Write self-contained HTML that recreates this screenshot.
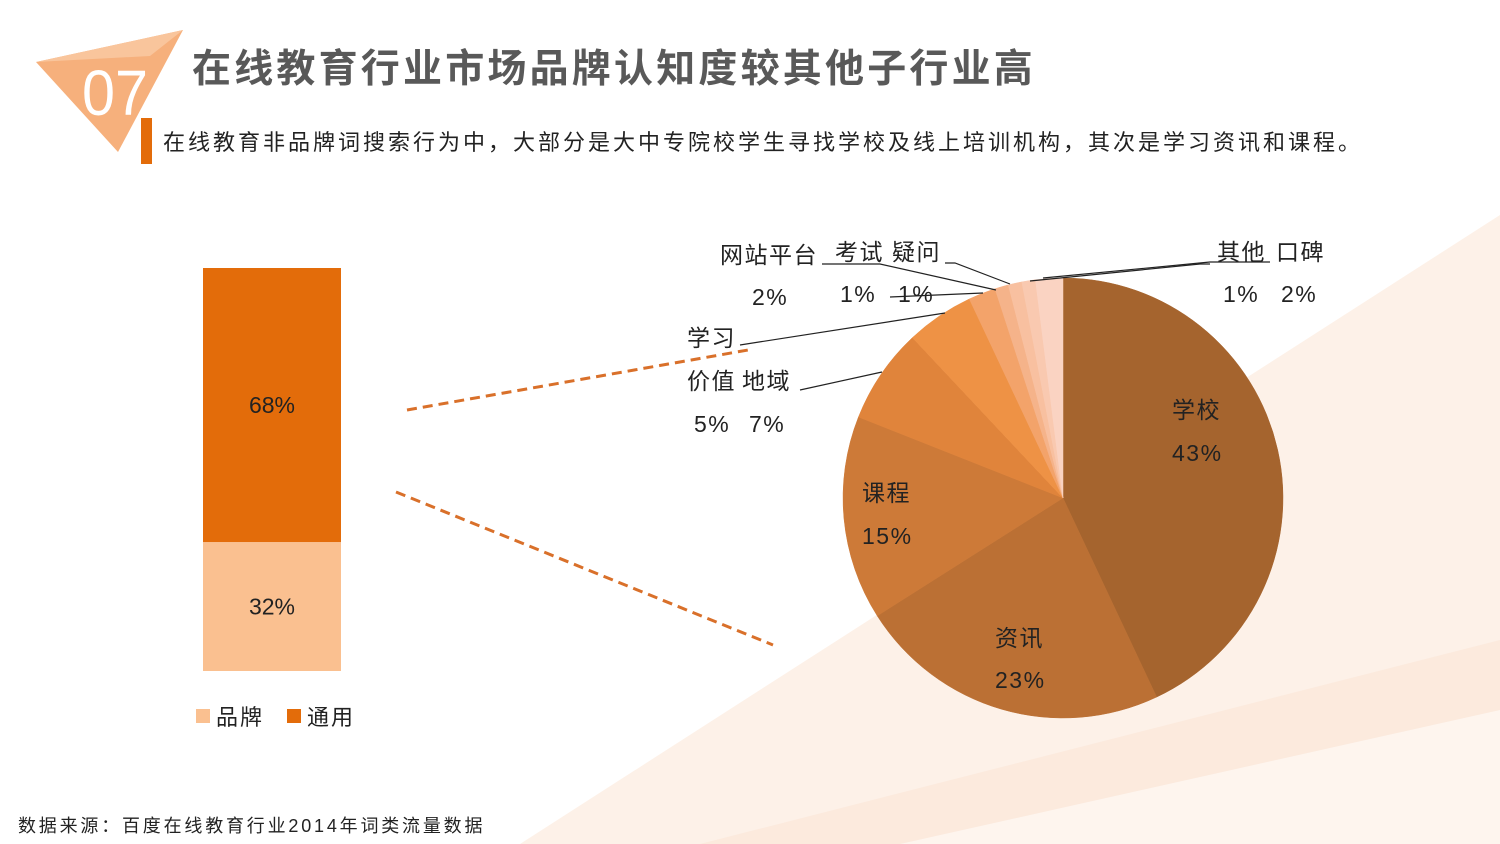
<!DOCTYPE html>
<html><head><meta charset="utf-8"><style>
body{margin:0;width:1500px;height:844px;overflow:hidden;background:#fff;font-family:"Liberation Sans","Noto Sans CJK SC",sans-serif;}
svg{position:absolute;left:0;top:0}
</style></head><body>
<svg width="1500" height="844">
<g>
<polygon points="1500,215 1500,844 520,844" fill="#fdf1e8"/>
<polygon points="1500,640 1500,844 700,844 " fill="#fbe6d6" opacity="0.6"/>
<polygon points="1500,710 1500,844 900,844" fill="#fff" opacity="0.5"/>
</g>
<g>
<polygon points="36,62 183,30 118,152" fill="#f6b07c"/>
<polygon points="36,62 183,30 150,56" fill="#f9c59c"/>
<text x="82" y="115" font-size="64" fill="#fff" transform="scale(1,1)" textLength="66" lengthAdjust="spacingAndGlyphs">07</text>
</g>
<text x="192" y="82" font-size="39" font-weight="bold" fill="#595959" letter-spacing="3.2">在线教育行业市场品牌认知度较其他子行业高</text>
<rect x="141" y="118" width="11" height="46" fill="#e36c0a"/>
<text x="163" y="150" font-size="22" fill="#222" letter-spacing="3">在线教育非品牌词搜索行为中，大部分是大中专院校学生寻找学校及线上培训机构，其次是学习资讯和课程。</text>
<g id="bar"></g>
<g>
<rect x="196" y="709" width="14" height="14" fill="#fac090"/>
<text x="216" y="725" font-size="22" fill="#222" letter-spacing="2">品牌</text>
<rect x="287" y="709" width="14" height="14" fill="#e36c0a"/>
<text x="307" y="725" font-size="22" fill="#222" letter-spacing="2">通用</text>
</g>
<line x1="407" y1="410" x2="748" y2="350" stroke="#d9702a" stroke-width="3" stroke-dasharray="10,6"/>
<line x1="396" y1="492" x2="773" y2="645" stroke="#d9702a" stroke-width="3" stroke-dasharray="10,6"/>
<g id="pie"></g>
<g fill="none" stroke="#222" stroke-width="1.2">
<polyline points="1043,278 1210,262 1270,262"/>
<polyline points="1030,281 1200,264 1210,264"/>
<polyline points="1010,284 955,263 945,263"/>
<polyline points="996,290 880,264 822,264"/>
<polyline points="983,293 890,297"/>
<polyline points="945,313 740,345"/>
<polyline points="882,372 800,390"/>
</g>
<g font-size="23" fill="#222" letter-spacing="1.5">
<text x="720" y="263">网站平台</text><text x="752" y="305">2%</text>
<text x="835" y="260">考试</text><text x="840" y="302">1%</text>
<text x="892" y="260">疑问</text><text x="898" y="302">1%</text>
<text x="1217" y="260">其他</text><text x="1223" y="302">1%</text>
<text x="1276" y="260">口碑</text><text x="1281" y="302">2%</text>
<text x="687" y="346">学习</text><text x="687" y="389">价值</text><text x="694" y="432">5%</text>
<text x="742" y="389">地域</text><text x="749" y="432">7%</text>
</g>
<g font-size="23" fill="#222" letter-spacing="1.5">
<text x="1172" y="418">学校</text><text x="1172" y="461">43%</text>
<text x="995" y="646">资讯</text><text x="995" y="688">23%</text>
<text x="862" y="501">课程</text><text x="862" y="544">15%</text>
</g>
<text x="18" y="832" font-size="18" fill="#222" letter-spacing="2.8">数据来源：百度在线教育行业2014年词类流量数据</text>
</svg>
<script>
const barCats=['品牌','通用'];
const barVals=[32,68];
const barLabels=['32%','68%'];
const barColors=['#fac090','#e36c0a'];
const pieCats=['学校','资讯','课程','地域','学习价值','网站平台','考试','疑问','其他','口碑'];
const pieVals=[43,23,15,7,5,2,1,1,1,2];
const pieColors=['#a5642e','#bb7034','#cd7a38','#e0843b','#ee9245','#f3a36a','#f5b38a','#f8c0a0','#f9c9b0','#fad3c2'];
const NS='http://www.w3.org/2000/svg';
const bar=document.getElementById('bar');
const tot=barVals.reduce((a,b)=>a+b,0);
const bx=203,bw=138,bBottom=671,bH=403;
let y=bBottom;
barVals.forEach((v,i)=>{
 const h=v/tot*bH;y-=h;
 const r=document.createElementNS(NS,'rect');
 r.setAttribute('x',bx);r.setAttribute('y',y);r.setAttribute('width',bw);r.setAttribute('height',h);r.setAttribute('fill',barColors[i]);
 
 
 bar.appendChild(r);
 const t=document.createElementNS(NS,'text');
 t.setAttribute('x',bx+bw/2);t.setAttribute('y',y+h/2+8);t.setAttribute('text-anchor','middle');t.setAttribute('font-size','23');t.setAttribute('fill','#222');
 t.textContent=barLabels[i];
 
 
 bar.appendChild(t);
});
const pie=document.getElementById('pie');
const cx=1063,cy=498,R=220;
const ptot=pieVals.reduce((a,b)=>a+b,0);
let a0=-Math.PI/2;
pieVals.forEach((v,i)=>{
 const a1=a0+v/ptot*2*Math.PI;
 const x0=cx+R*Math.cos(a0),y0=cy+R*Math.sin(a0),x1=cx+R*Math.cos(a1),y1=cy+R*Math.sin(a1);
 const p=document.createElementNS(NS,'path');
 p.setAttribute('d',`M${cx},${cy}L${x0},${y0}A${R},${R} 0 ${a1-a0>Math.PI?1:0} 1 ${x1},${y1}Z`);
 p.setAttribute('fill',pieColors[i]);p.setAttribute('stroke',pieColors[i]);p.setAttribute('stroke-width','0.5');
 
 
 pie.appendChild(p);
 a0=a1;
});
</script>
</body></html>
